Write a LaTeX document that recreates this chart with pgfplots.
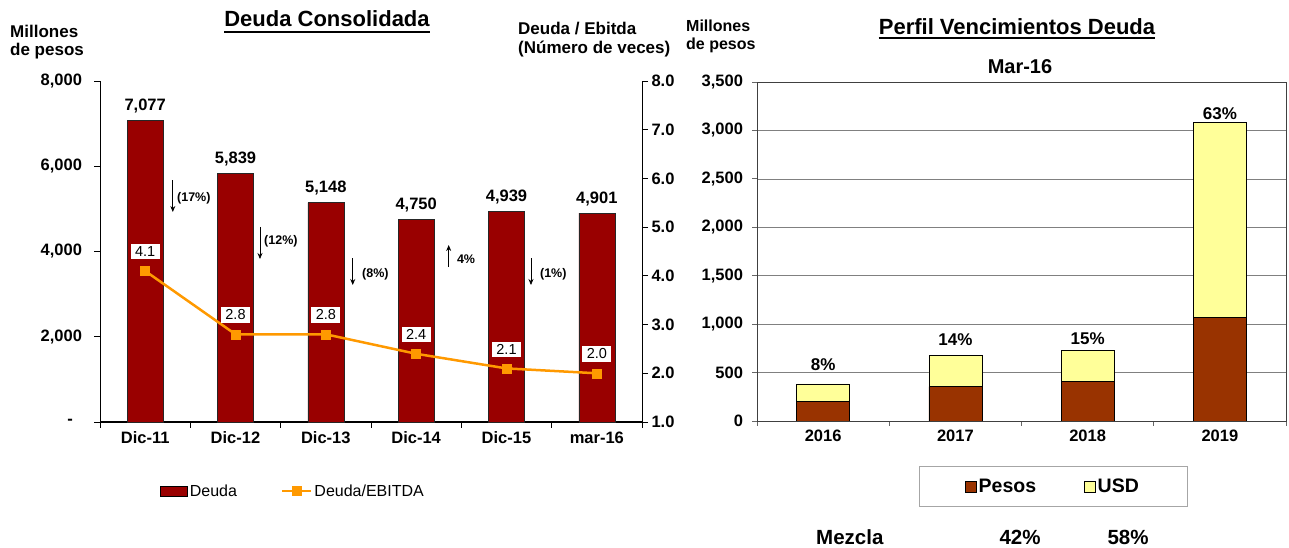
\documentclass[border=0pt]{standalone}
\usepackage{pgfplots}
\pgfplotsset{compat=1.18}
\usepackage{pgfplotstable}
\usepackage{fontspec}
\setmainfont{Liberation Sans}
\usetikzlibrary{arrows.meta}

\definecolor{deudaRed}{RGB}{153,0,0}
\definecolor{ratioOrange}{RGB}{255,153,0}
\definecolor{pesosBrown}{RGB}{153,51,0}
\definecolor{usdYellow}{RGB}{255,255,153}
\newcommand{\fs}[1]{\fontsize{#1}{#1}\selectfont}

\pgfplotsset{
  sqlegend/.style={legend image code/.code={\draw[##1] (0pt,-5.5pt) rectangle (11pt,5.5pt);}},
  barlegend/.style={legend image code/.code={\draw[##1] (0pt,-5pt) rectangle (27pt,5pt);}},
  linelegend/.style={legend image code/.code={\draw[##1, mark repeat=2, mark phase=2] plot coordinates {(0pt,0pt) (14.5pt,0pt) (29pt,0pt)};}},
}

% Deuda consolidada (millones de pesos)
\pgfplotstableread{
x deuda lab
0 7077 7,077
1 5839 5,839
2 5148 5,148
3 4750 4,750
4 4939 4,939
5 4901 4,901
}\deudaTab

% Deuda / EBITDA (veces)
\pgfplotstableread{
x ratio lab
0 4.1 4.1
1 2.8 2.8
2 2.8 2.8
3 2.4 2.4
4 2.1 2.1
5 2.0 2.0
}\ratioTab

% Perfil de vencimientos, Mar-16
\pgfplotstableread{
x pesos usd total lab off
0 203 179 382 8 10
1 354 327 681 14 6
2 405 328 733 15 1.5
3 1073 2010 3083 63 -1
}\vencTab

\begin{document}
\begin{tikzpicture}
\useasboundingbox (0pt,0pt) rectangle (1289pt,548pt);

% ---- left: bars
\begin{axis}[
  at={(100pt,126pt)}, anchor=south west,
  scale only axis, width=542pt, height=341pt,
  xmin=-0.5, xmax=5.5, ymin=0, ymax=8000,
  axis y line*=left, axis x line*=bottom,
  x axis line style={line width=2pt},
  y axis line style={line width=0.8pt},
  ybar, bar width=36pt,
  xtick={0,...,5}, xticklabels={Dic-11,Dic-12,Dic-13,Dic-14,Dic-15,mar-16},
  minor xtick={-0.5,0.5,...,5.5},
  ytick={0,2000,4000,6000,8000},
  yticklabels={{-\kern9pt},{2,000},{4,000},{6,000},{8,000}},
  tick align=outside, major tick length=6pt, minor tick length=6pt,
  tick style={black, line width=0.8pt},
  major x tick style={draw=none},
  ticklabel style={font=\fs{16.5}\bfseries},
  yticklabel style={xshift=-8.5pt},
  clip=false,
]
\addplot[fill=deudaRed, draw=black!85, line width=0.6pt,
  point meta=explicit symbolic, nodes near coords,
  every node near coord/.append style={font=\fs{16.5}\bfseries, black, yshift=3.5pt}]
  table[x=x, y=deuda, meta=lab] {\deudaTab};

\draw[-{Stealth[length=6pt,width=5pt]}, line width=0.8pt] (axis cs:0.306,5677) -- (axis cs:0.306,4927);
\node[anchor=west, inner sep=0pt, font=\fs{12.5}\bfseries] at (axis cs:0.352,5255) {(17\%)};
\draw[-{Stealth[length=6pt,width=5pt]}, line width=0.8pt] (axis cs:1.271,4575) -- (axis cs:1.271,3824);
\node[anchor=west, inner sep=0pt, font=\fs{12.5}\bfseries] at (axis cs:1.316,4246) {(12\%)};
\draw[-{Stealth[length=6pt,width=5pt]}, line width=0.8pt] (axis cs:2.298,3847) -- (axis cs:2.298,3214);
\node[anchor=west, inner sep=0pt, font=\fs{12.5}\bfseries] at (axis cs:2.40,3472) {(8\%)};
\draw[-{Stealth[length=6pt,width=5pt]}, line width=0.8pt] (axis cs:3.36,3636) -- (axis cs:3.36,4152);
\node[anchor=west, inner sep=0pt, font=\fs{12.5}\bfseries] at (axis cs:3.45,3824) {4\%};
\draw[-{Stealth[length=6pt,width=5pt]}, line width=0.8pt] (axis cs:4.271,3847) -- (axis cs:4.271,3214);
\node[anchor=west, inner sep=0pt, font=\fs{12.5}\bfseries] at (axis cs:4.37,3472) {(1\%)};
\end{axis}

% ---- left: Deuda/EBITDA on the right axis
\begin{axis}[
  at={(100pt,126pt)}, anchor=south west,
  scale only axis, width=542pt, height=341pt,
  xmin=-0.5, xmax=5.5, ymin=1, ymax=8,
  axis y line*=right, axis x line=none,
  y axis line style={line width=0.8pt},
  ytick={1,...,8}, yticklabels={1.0,2.0,3.0,4.0,5.0,6.0,7.0,8.0},
  tick align=outside, major tick length=6pt,
  tick style={black, line width=0.8pt},
  ticklabel style={font=\fs{16.5}\bfseries},
  legend style={at={(axis description cs:0.1107,-0.2023)}, anchor=west,
    draw=none, fill=none, font=\fs{16}, legend columns=2, inner sep=0pt,
    /tikz/every even column/.append style={column sep=42pt}},
  legend cell align=left,
  clip=false,
]
\addlegendimage{barlegend, fill=deudaRed, draw=black, line width=0.6pt}
\addlegendentry{Deuda}
\addplot[ratioOrange, line width=2.5pt, mark=square*, mark size=4.5pt,
  mark options={fill=ratioOrange, draw=ratioOrange, line width=0.5pt},
  point meta=explicit symbolic, nodes near coords,
  every node near coord/.append style={font=\fs{14.5}, black, fill=white,
    inner xsep=4.5pt, inner ysep=2.5pt, yshift=11.5pt},
  linelegend]
  table[x=x, y=ratio, meta=lab] {\ratioTab};
\addlegendentry{Deuda/EBITDA}
\end{axis}

% ---- right: perfil de vencimientos
\begin{axis}[
  at={(757pt,127pt)}, anchor=south west,
  scale only axis, width=529pt, height=339pt,
  xmin=-0.5, xmax=3.5, ymin=0, ymax=3500,
  ybar stacked, bar width=53pt,
  axis line style={black!75, line width=0.8pt},
  ymajorgrids, grid style={gray, line width=0.6pt},
  xtick={0,...,3}, xticklabels={2016,2017,2018,2019},
  minor xtick={-0.5,0.5,...,3.5},
  ytick={0,500,...,3500},
  yticklabels={0,500,{1,000},{1,500},{2,000},{2,500},{3,000},{3,500}},
  xtick pos=bottom, ytick pos=left,
  tick align=outside, major tick length=5pt, minor tick length=5pt,
  tick style={black!60, line width=0.8pt},
  major x tick style={draw=none},
  ticklabel style={font=\fs{16.5}\bfseries},
  yticklabel style={xshift=-5.5pt},
  legend style={at={(axis description cs:0.5595,-0.1932)}, anchor=center,
    draw=black!35, fill=white, font=\fs{19.5}\bfseries, legend columns=2,
    inner xsep=46pt, inner ysep=10.5pt,
    /tikz/every even column/.append style={column sep=46pt}},
  legend cell align=left,
]
\addplot[fill=pesosBrown, draw=black, line width=0.6pt, sqlegend]
  table[x=x, y=pesos] {\vencTab};
\addlegendentry{Pesos}
\addplot[fill=usdYellow, draw=black, line width=0.6pt, sqlegend]
  table[x=x, y=usd] {\vencTab};
\addlegendentry{USD}
\end{axis}

% ---- right: share of each year, over the bar totals
\begin{axis}[
  at={(757pt,127pt)}, anchor=south west,
  scale only axis, width=529pt, height=339pt,
  xmin=-0.5, xmax=3.5, ymin=0, ymax=3500,
  hide axis, clip=false,
]
\addplot[draw=none, mark=none,
  point meta=explicit symbolic, nodes near coords={\pgfplotspointmeta\%},
  visualization depends on={\thisrow{off} \as \labOff},
  every node near coord/.append style={font=\fs{17}\bfseries, black, anchor=south, yshift=\labOff}]
  table[x=x, y=total, meta=lab] {\vencTab};
\end{axis}

% ---- titles and notes
\node[anchor=base, inner sep=0pt, font=\fs{22}\bfseries] (t1) at (327pt,521.3pt) {Deuda Consolidada};
\draw[line width=1.8pt] ([yshift=-5pt]t1.base west) -- ([yshift=-5pt]t1.base east);
\node[anchor=base west, inner sep=0pt, font=\fs{17}\bfseries] at (10pt,510.7pt) {Millones};
\node[anchor=base west, inner sep=0pt, font=\fs{17}\bfseries] at (10pt,492.5pt) {de pesos};
\node[anchor=base west, inner sep=0pt, font=\fs{17}\bfseries] at (518pt,513pt) {Deuda / Ebitda};
\node[anchor=base west, inner sep=0pt, font=\fs{17}\bfseries] at (518pt,494.5pt) {(Número de veces)};

\node[anchor=base west, inner sep=0pt, font=\fs{16}\bfseries] at (686pt,516.3pt) {Millones};
\node[anchor=base west, inner sep=0pt, font=\fs{16}\bfseries] at (686pt,498.5pt) {de pesos};
\node[anchor=base, inner sep=0pt, font=\fs{22}\bfseries] (t2) at (1017pt,513.7pt) {Perfil Vencimientos Deuda};
\draw[line width=1.8pt] ([yshift=-4pt]t2.base west) -- ([yshift=-4pt]t2.base east);
\node[anchor=base, inner sep=0pt, font=\fs{20}\bfseries] at (1020pt,474.7pt) {Mar-16};

\node[anchor=base west, inner sep=0pt, font=\fs{20.5}\bfseries] at (816pt,3pt) {Mezcla};
\node[anchor=base, inner sep=0pt, font=\fs{20.5}\bfseries] at (1020pt,3pt) {42\%};
\node[anchor=base, inner sep=0pt, font=\fs{20.5}\bfseries] at (1128pt,3pt) {58\%};
\end{tikzpicture}
\end{document}
